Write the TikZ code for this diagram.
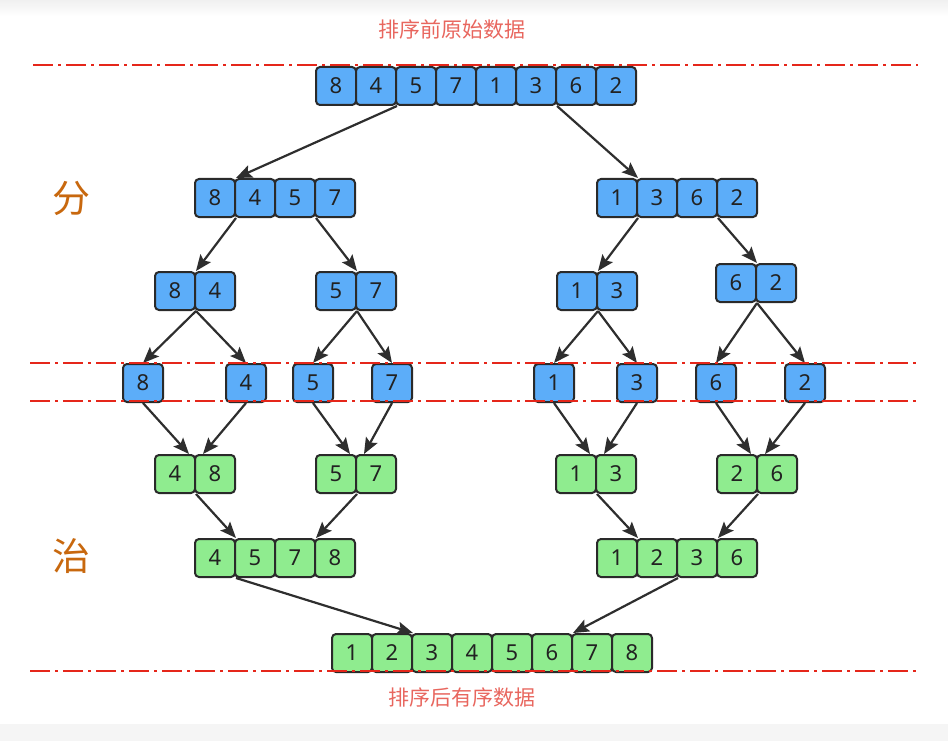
\documentclass[tikz,border=0pt]{standalone}
\usepackage{fontspec}
\setmainfont{Noto Sans}
\newfontfamily\cjk{Noto Sans CJK SC}
\usetikzlibrary{arrows.meta}
\definecolor{cellblue}{HTML}{5CADF9}
\definecolor{cellgreen}{HTML}{8FEC8F}
\definecolor{celledge}{HTML}{2A2A2A}
\definecolor{digit}{HTML}{222222}
\definecolor{arrowc}{HTML}{2E2E2E}
\definecolor{sepred}{HTML}{E5261A}
\definecolor{labelred}{HTML}{E8665E}
\definecolor{phase}{HTML}{C8680E}
\newcommand\cellrow[5]{%
  \foreach \v [count=\i] in {#5} {\node[#4] (#1-\i) at ({#2+40*(\i-1)},#3) {\v};}%
}
\begin{document}
\begin{tikzpicture}[x=1pt,y=-1pt,
  cell/.style={draw=celledge, line width=2pt, rounded corners=4pt, minimum width=40pt,
    minimum height=38pt, inner sep=0pt, anchor=north west,
    font=\fontsize{22}{22}\selectfont, text=digit},
  bcell/.style={cell, fill=cellblue},
  gcell/.style={cell, fill=cellgreen},
  link/.style={draw=arrowc, line width=2.2pt, -{Stealth[length=16pt,width=13pt,inset=3pt]}},
  sepline/.style={draw=sepred, line width=1.6pt, dash pattern=on 20pt off 5pt on 3pt off 5pt},
  lbl/.style={font=\cjk\fontsize{21}{21}\selectfont, text=labelred},
  phasel/.style={font=\cjk\fontsize{38}{38}\selectfont, text=phase}
]
\useasboundingbox (0,0) rectangle (948,741);
\shade[top color=black!6, bottom color=white] (0,0) rectangle (948,16);
\fill[black!4] (0,724) rectangle (948,741);

% labels
\node[lbl] (title) at (452,30) {排序前原始数据};
\node[lbl] (foot) at (462,697) {排序后有序数据};
\node[phasel] (fen) at (71,198) {分};
\node[phasel] (zhi) at (71,556) {治};

% split rows
\cellrow{t}{315}{66}{bcell}{8,4,5,7,1,3,6,2}
\cellrow{a}{194}{178}{bcell}{8,4,5,7}
\cellrow{b}{596}{178}{bcell}{1,3,6,2}
\cellrow{c}{154}{271}{bcell}{8,4}
\cellrow{d}{315}{271}{bcell}{5,7}
\cellrow{e}{556}{271}{bcell}{1,3}
\cellrow{f}{715}{263}{bcell}{6,2}
\node[bcell] (s1) at (122,363) {8};
\node[bcell] (s2) at (225,363) {4};
\node[bcell] (s3) at (292,363) {5};
\node[bcell] (s4) at (371,363) {7};
\node[bcell] (s5) at (533,363) {1};
\node[bcell] (s6) at (616,363) {3};
\node[bcell] (s7) at (695,363) {6};
\node[bcell] (s8) at (784,363) {2};

% merge rows
\cellrow{g}{154}{454}{gcell}{4,8}
\cellrow{h}{315}{454}{gcell}{5,7}
\cellrow{i}{555}{454}{gcell}{1,3}
\cellrow{j}{716}{454}{gcell}{2,6}
\cellrow{k}{194}{538}{gcell}{4,5,7,8}
\cellrow{l}{596}{538}{gcell}{1,2,3,6}
\cellrow{m}{331}{633}{gcell}{1,2,3,4,5,6,7,8}

% split arrows
\draw[link] (t-2.south east) -- (a-1.north east);
\draw[link] (t-6.south east) -- (b-1.north east);
\draw[link] (a-1.south east) -- (c-1.north east);
\draw[link] (a-3.south east) -- (d-1.north east);
\draw[link] (b-1.south east) -- (e-1.north east);
\draw[link] (b-3.south east) -- (f-1.north east);
\draw[link] (c-1.south east) -- (s1.north);
\draw[link] (c-1.south east) -- (s2.north);
\draw[link] (d-1.south east) -- (s3.north);
\draw[link] (d-1.south east) -- (s4.north);
\draw[link] (e-1.south east) -- (s5.north);
\draw[link] (e-1.south east) -- (s6.north);
\draw[link] (f-1.south east) -- (s7.north);
\draw[link] (f-1.south east) -- (s8.north);

% merge arrows
\draw[link] (s1.south) -- ([xshift=-7pt]g-1.north east);
\draw[link] (s2.south) -- ([xshift=7pt]g-1.north east);
\draw[link] (s3.south) -- ([xshift=-7pt]h-1.north east);
\draw[link] (s4.south) -- ([xshift=7pt]h-1.north east);
\draw[link] (s5.south) -- ([xshift=-7pt]i-1.north east);
\draw[link] (s6.south) -- ([xshift=7pt]i-1.north east);
\draw[link] (s7.south) -- ([xshift=-7pt]j-1.north east);
\draw[link] (s8.south) -- ([xshift=7pt]j-1.north east);
\draw[link] (g-1.south east) -- (k-1.north east);
\draw[link] (h-1.south east) -- (k-3.north east);
\draw[link] (i-1.south east) -- (l-1.north east);
\draw[link] (j-1.south east) -- (l-3.north east);
\draw[link] (k-1.south east) -- (m-2.north east);
\draw[link] (l-2.south east) -- (m-6.north east);

% separator lines
\draw[sepline] (33,65) -- (918,65);
\draw[sepline] (30,363) -- (918,363);
\draw[sepline] (30,401) -- (918,401);
\draw[sepline] (30,671) -- (916,671);
\end{tikzpicture}
\end{document}
